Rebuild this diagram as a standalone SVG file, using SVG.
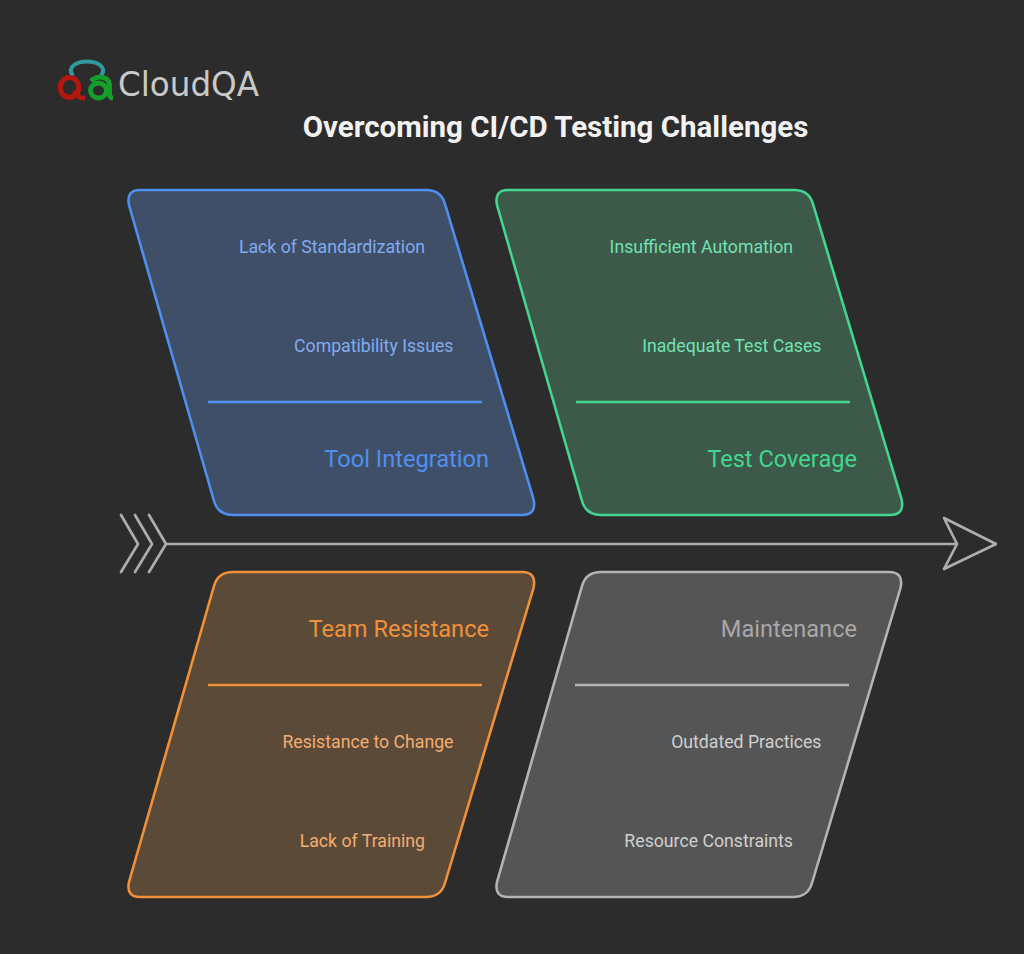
<svg xmlns="http://www.w3.org/2000/svg" width="1024" height="954" viewBox="0 0 1024 954">
<style>
text{font-family:Roboto,"Liberation Sans",sans-serif}
.item{font-size:17.7px;text-anchor:end}
.head{font-size:23.6px;text-anchor:end}
.card{stroke-width:2.6}
.div{stroke-width:2.4;fill:none}
.axis{fill:none;stroke:#adadad;stroke-width:2.7;stroke-linecap:round;stroke-linejoin:round}
</style>
<rect width="1024" height="954" fill="#2c2c2c"/>
<g id="logo" fill="none">
<path d="M73 76C66 66 78 61.500 87 61.500C96 61.500 108 66 101 76" stroke="#2f9a9f" stroke-width="4"/>
<ellipse cx="69.500" cy="87.500" rx="9.300" ry="10" stroke="#b5170f" stroke-width="5"/>
<path d="M73 92L81 98H85" stroke="#b5170f" stroke-width="4.500"/>
<path d="M91 81C97 75 109 76 109.500 85V94Q109.500 98 113 98" stroke="#12a02a" stroke-width="4.800"/>
<ellipse cx="98.500" cy="90.500" rx="8" ry="7.500" stroke="#12a02a" stroke-width="4.800"/>
<text x="118" y="96" font-size="33" fill="#c9c9c9" style="font-family:'DejaVu Sans',sans-serif" textLength="141" lengthAdjust="spacingAndGlyphs">CloudQA</text>
</g>
<text id="title" x="555.500" y="137" font-size="29.500" font-weight="700" fill="#f2f2f2" text-anchor="middle">Overcoming CI/CD Testing Challenges</text>
<g id="connectors">
<path class="axis" d="M166 544H957"/>
<path class="axis" d="M121 515L138 544L121 572M135 515L152 544L135 572M149 515L166 544L149 572"/>
<path class="axis" d="M944 518L996 544L944 569L957 544Z"/>
</g>
<g id="tool-integration">
<path class="card" fill="#3f4f68" stroke="#4f8ff0" d="M140 190H426Q441 190 445 204L533.500 499Q537 515 522 515H233Q218 515 214 501L129 205Q126 190 140 190Z"/>
<path class="div" stroke="#4f8ff0" d="M208 402H482"/>
<text class="item" x="425" y="252.500" fill="#82abee">Lack of Standardization</text>
<text class="item" x="453.500" y="351.500" fill="#82abee">Compatibility Issues</text>
<text class="head" x="489" y="467" fill="#4f8ff0">Tool Integration</text>
</g>
<g id="test-coverage">
<path class="card" fill="#3c5949" stroke="#42d690" d="M508 190H794Q809 190 813 204L901.500 499Q905 515 890 515H601Q586 515 582 501L497 205Q494 190 508 190Z"/>
<path class="div" stroke="#42d690" d="M576 402H850"/>
<text class="item" x="793" y="252.500" fill="#72e2b2">Insufficient Automation</text>
<text class="item" x="821.500" y="351.500" fill="#72e2b2">Inadequate Test Cases</text>
<text class="head" x="857" y="467" fill="#42d690">Test Coverage</text>
</g>
<g id="team-resistance">
<path class="card" fill="#5c4a39" stroke="#f0913a" d="M233 572H522Q537 572 533.500 588L445 883Q441 897 426 897H140Q126 897 129 882L214 586Q218 572 233 572Z"/>
<path class="div" stroke="#f0913a" d="M208 685H482"/>
<text class="head" x="489" y="637" fill="#f0913a">Team Resistance</text>
<text class="item" x="453.500" y="747.500" fill="#f4ad70">Resistance to Change</text>
<text class="item" x="425" y="846.500" fill="#f4ad70">Lack of Training</text>
</g>
<g id="maintenance">
<path class="card" fill="#555555" stroke="#b4b4b4" d="M601 572H889Q904 572 900.500 588L812 883Q808 897 793 897H508Q494 897 497 882L582 586Q586 572 601 572Z"/>
<path class="div" stroke="#b4b4b4" d="M575 685H849"/>
<text class="head" x="857" y="637" fill="#a8a8a8">Maintenance</text>
<text class="item" x="821.500" y="747.500" fill="#d0d0d0">Outdated Practices</text>
<text class="item" x="793" y="846.500" fill="#d0d0d0">Resource Constraints</text>
</g>
</svg>
